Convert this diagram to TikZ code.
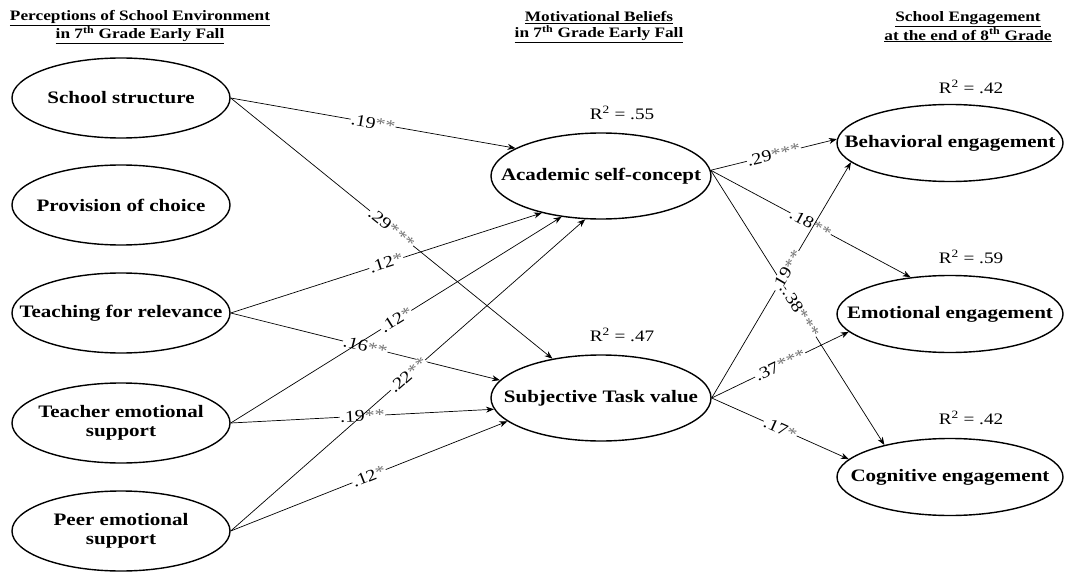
\documentclass[tikz,border=0pt]{standalone}
\usepackage{fontspec}
\setmainfont[FakeStretch=1.2]{Liberation Serif}
\usetikzlibrary{shapes.geometric,arrows.meta}
\newcommand\stars[1]{{\color{black!55}#1}}
\begin{document}
\begin{tikzpicture}[x=1pt,y=1pt,
  ell/.style={draw, ellipse, line width=1.4pt, inner sep=0pt},
  lft/.style={ell, minimum width=218pt, minimum height=80pt},
  mid/.style={ell, minimum width=220pt, minimum height=86pt},
  rgt/.style={ell, minimum width=226pt, minimum height=77pt},
  lbl/.style={font=\fontsize{17.5}{18.5}\selectfont\bfseries, align=center, inner sep=0pt},
  arr/.style={-{Stealth[length=8pt,width=6pt]}, line width=0.7pt},
  coef/.style={sloped, fill=white, inner sep=0.5pt, font=\fontsize{16.5}{17}\selectfont, pos=0.5},
  rsq/.style={font=\fontsize{16}{17}\selectfont},
  hdr/.style={font=\fontsize{14.4}{16}\selectfont\bfseries, align=center}
]
\useasboundingbox (0,0) rectangle (1065,-572);

% headers
\node[hdr] (h1) at (140,-27) {\underline{Perceptions of School Environment}\\\underline{in 7\textsuperscript{th} Grade Early Fall}};
\node[hdr] (h2) at (599,-27) {\underline{Motivational Beliefs}\\\underline{in 7\textsuperscript{th} Grade Early Fall}};
\node[hdr] (h3) at (968,-27) {\underline{School Engagement}\\\underline{at the end of 8\textsuperscript{th} Grade}};

% left
\node[lft, label={[lbl]center:School structure}] (ss) at (121,-98) {};
\node[lft, label={[lbl]center:Provision of choice}] (pc) at (121,-205) {};
\node[lft, label={[lbl]center:Teaching for relevance}] (tr) at (121,-313) {};
\node[lft, label={[lbl]center:{Teacher emotional\\support}}] (te) at (121,-423) {};
\node[lft, label={[lbl]center:{Peer emotional\\support}}] (pe) at (121,-531) {};

% middle
\node[mid, label={[lbl]center:Academic self-concept}] (asc) at (601,-176) {};
\node[mid, label={[lbl]center:Subjective Task value}] (stv) at (601,-398) {};

% right
\node[rgt, label={[lbl]center:Behavioral engagement}] (beh) at (950,-143) {};
\node[rgt, label={[lbl]center:Emotional engagement}] (emo) at (950,-314) {};
\node[rgt, label={[lbl]center:Cognitive engagement}] (cog) at (950,-477) {};

% R squared
\node[rsq] (r1) at (622,-113) {R\textsuperscript{2} = .55};
\node[rsq] (r2) at (622,-335) {R\textsuperscript{2} = .47};
\node[rsq] (r3) at (971,-87) {R\textsuperscript{2} = .42};
\node[rsq] (r4) at (971,-257) {R\textsuperscript{2} = .59};
\node[rsq] (r5) at (971,-418) {R\textsuperscript{2} = .42};

% paths left -> middle
\draw[arr] (ss.east) -- node[coef]{.19\stars{**}} (asc.162);
\draw[arr] (ss.east) -- node[coef]{.29\stars{***}} (stv.141);
\draw[arr] (tr.east) -- node[coef]{.12\stars{*}} (asc.212);
\draw[arr] (tr.east) -- node[coef]{.16\stars{**}} (stv.170);
\draw[arr] (te.east) -- node[coef]{.12\stars{*}} (asc.226);
\draw[arr] (te.east) -- node[coef]{.19\stars{**}} (stv.186);
\draw[arr] (pe.east) -- node[coef]{.22\stars{**}} (asc.250);
\draw[arr] (pe.east) -- node[coef]{.12\stars{*}} (stv.194);

% paths middle -> right
\draw[arr] (asc.3) -- node[coef]{.29\stars{***}} (beh.178);
\draw[arr] (asc.3) -- node[coef]{.18\stars{**}} (emo.137);
\draw[arr] (asc.3) -- node[coef, pos=0.52]{.38\stars{***}} (cog.154);
\draw[arr] (stv.east) -- node[coef, pos=0.54]{.19\stars{**}} (beh.191);
\draw[arr] (stv.east) -- node[coef]{.37\stars{***}} (emo.190);
\draw[arr] (stv.east) -- node[coef]{.17\stars{*}} (cog.170);
\end{tikzpicture}
\end{document}
